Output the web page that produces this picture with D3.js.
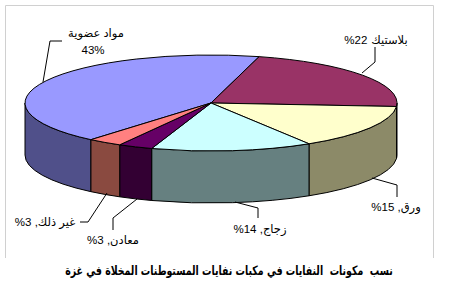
<!DOCTYPE html>
<html><head><meta charset="utf-8">
<script src="https://cdn.jsdelivr.net/npm/d3@7"></script>
<style>body{margin:0;background:#fff}svg{display:block}text{white-space:pre}</style>
</head><body>
<svg id="c" width="450" height="285"></svg>
<script>
const categories = ["مواد عضوية","بلاستيك","ورق","زجاج","معادن","غير ذلك"];
const values = [43,22,15,14,3,3];
const valueLabels = ["43%","%22","%15 ,","%14 ,","%3 ,","%3 ,"];
const title = "نسب  مكونات  النفايات في مكبات نفايات المستوطنات المخلاة في غزة";

const topColors  = ["#9999ff","#993366","#ffffcc","#ccffff","#660066","#ff8080"];
const sideColors = ["#50508a","#4d1a33","#8c8a68","#668080","#330033","#8a4a40"];

const svg = d3.select("#c");
const cx = 211, cy = 103, rx = 186, ry = 48, depth = 52;
const deg = Math.PI/180;

svg.append("path").attr("d","M5.5,258 V5.5 H433.5 V258").attr("fill","none").attr("stroke","#d0d0d0");

const pie = d3.pie().sort(null).startAngle(220.2*deg).endAngle(220.2*deg + 2*Math.PI);
const arcs = pie(values);

const px = a => cx + rx*Math.sin(a);
const py = (a, d=0) => cy - ry*Math.cos(a) + d;

const g = svg.append("g");
function sideSegs(a0, a1){
  const segs=[];
  for (let k=-1;k<=2;k++){
    const lo = Math.PI/2 + k*2*Math.PI, hi = 3*Math.PI/2 + k*2*Math.PI;
    const s = Math.max(a0, lo), e = Math.min(a1, hi);
    if (e > s) segs.push([s,e]);
  }
  return segs;
}
arcs.forEach((d,i)=>{
  sideSegs(d.startAngle, d.endAngle).forEach(([s,e])=>{
    const p = `M${px(s)},${py(s)} A${rx},${ry} 0 0 1 ${px(e)},${py(e)} L${px(e)},${py(e,depth)} A${rx},${ry} 0 0 0 ${px(s)},${py(s,depth)} Z`;
    g.append("path").attr("d",p).attr("fill",sideColors[i]).attr("stroke","#000").attr("stroke-width",1).attr("stroke-linejoin","round");
  });
});
arcs.forEach((d,i)=>{
  const a0=d.startAngle, a1=d.endAngle;
  const large = (a1-a0) > Math.PI ? 1 : 0;
  const p = `M${cx},${cy} L${px(a0)},${py(a0)} A${rx},${ry} 0 ${large} 1 ${px(a1)},${py(a1)} Z`;
  g.append("path").attr("d",p).attr("fill",topColors[i]).attr("stroke","#000").attr("stroke-width",1).attr("stroke-linejoin","round");
});

const leaders = [
  [[62,41],[50,41],[43,82]],
  [[375,47],[375,62],[362,73]],
  [[372,178],[397,185],[397,197]],
  [[235,202],[258,208],[258,218]],
  [[113,230],[113,218],[137,199]],
  [[80,222],[88,222],[107,193]]
];
const line = d3.line();
leaders.forEach(l=>svg.append("path").attr("d",line(l)).attr("fill","none").attr("stroke","#000").attr("stroke-width",1));

const font = "'Liberation Sans','DejaVu Sans',sans-serif";
const fs = 11.5;
svg.append("text").attr("x",96).attr("y",33).attr("text-anchor","middle").attr("dominant-baseline","central")
  .attr("font-family",font).attr("font-size",fs).text(categories[0]);
svg.append("text").attr("x",93).attr("y",50).attr("text-anchor","middle").attr("dominant-baseline","central")
  .attr("font-family",font).attr("font-size",fs).attr("direction","ltr").attr("unicode-bidi","bidi-override").text(valueLabels[0]);

const labelPos = [null,[376,40],[396,207],[260,229],[113,240],[45,222]];
for (let i=1;i<categories.length;i++){
  const [x,y] = labelPos[i];
  const n = svg.append("text").attr("y",y).attr("text-anchor","start").attr("dominant-baseline","central")
    .attr("font-family",font).attr("font-size",fs).attr("direction","ltr").attr("unicode-bidi","bidi-override").text(valueLabels[i]);
  const w = svg.append("text").attr("y",y).attr("text-anchor","end").attr("dominant-baseline","central")
    .attr("font-family",font).attr("font-size",fs).text(categories[i]);
  const w1 = n.node().getComputedTextLength(), w2 = w.node().getComputedTextLength();
  const gap = valueLabels[i].endsWith(",") ? 0 : 4;
  const x0 = x - (w1+gap+w2)/2;
  n.attr("x", x0);
  w.attr("x", x0 + w1 + gap + w2);
}

const tg = svg.append("g");
const t = tg.append("text").attr("x",0).attr("y",0).attr("text-anchor","middle").attr("dominant-baseline","central")
  .attr("font-family","'DejaVu Sans',sans-serif").attr("font-weight","bold").attr("font-size",13)
  .attr("direction","rtl").text(title);
const tw = t.node().getComputedTextLength();
const sx = Math.min(1, 328/tw);
tg.attr("transform",`translate(229,270) scale(${sx},1)`);
</script>
</body></html>
